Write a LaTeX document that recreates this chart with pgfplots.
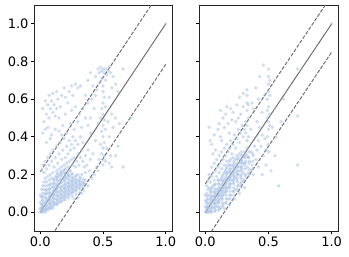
\documentclass[border=0pt]{standalone}
\usepackage{pgfplots}
\pgfplotsset{compat=1.18}
\usepackage{fontspec}
\setmainfont{DejaVu Sans}
\definecolor{ptcol}{HTML}{A8C1E4}
\definecolor{lncol}{HTML}{707070}
\pgfplotsset{
  myax/.style={
    scale only axis, width=138pt, height=226pt,
    xmin=-0.05, xmax=1.05, ymin=-0.1, ymax=1.1,
    xtick={0,0.5,1}, ytick={0,0.2,0.4,0.6,0.8,1.0},
    tick align=outside, tick pos=left,
    major tick length=3.3pt,
    every tick/.style={black, line width=0.8pt},
    axis line style={black!85, line width=0.8pt},
    ticklabel style={font=\fontsize{13}{13}\selectfont},
    xticklabel style={inner sep=1pt, yshift=-1pt},
    yticklabel style={inner sep=1pt, xshift=-1pt},
    /pgf/number format/fixed,
    /pgf/number format/fixed zerofill,
    /pgf/number format/precision=1,
    /pgf/number format/assume math mode=true,
  },
  pts/.style={only marks, mark=*, mark size=1.9pt, color=ptcol, fill=ptcol, fill opacity=0.55, draw opacity=0},
  solidln/.style={lncol, line width=1pt},
  dashln/.style={lncol, line width=1pt, dash pattern=on 3.7pt off 1.6pt},
}
\begin{document}
\begin{tikzpicture}
\path[use as bounding box] (-34pt,-26pt) rectangle (315pt,231pt);
\begin{axis}[myax]
% dense core (left)
\addplot[pts] coordinates {
(0.015,0.005)(0.015,0.025)(0.015,0.045)(0.015,0.065)(0.015,0.085)
(0.045,0.015)(0.045,0.035)(0.045,0.055)(0.045,0.075)(0.045,0.095)(0.045,0.115)
(0.075,0.025)(0.075,0.045)(0.075,0.065)(0.075,0.085)(0.075,0.105)(0.075,0.125)(0.075,0.145)
(0.105,0.035)(0.105,0.055)(0.105,0.075)(0.105,0.095)(0.105,0.115)(0.105,0.135)(0.105,0.155)(0.105,0.175)
(0.135,0.045)(0.135,0.065)(0.135,0.085)(0.135,0.105)(0.135,0.125)(0.135,0.145)(0.135,0.165)(0.135,0.185)(0.135,0.205)
(0.165,0.055)(0.165,0.075)(0.165,0.095)(0.165,0.115)(0.165,0.135)(0.165,0.155)(0.165,0.175)(0.165,0.195)(0.165,0.215)
(0.195,0.065)(0.195,0.085)(0.195,0.105)(0.195,0.125)(0.195,0.145)(0.195,0.165)(0.195,0.185)(0.195,0.205)(0.195,0.225)
(0.225,0.075)(0.225,0.095)(0.225,0.115)(0.225,0.135)(0.225,0.155)(0.225,0.175)(0.225,0.195)(0.225,0.215)
(0.255,0.085)(0.255,0.105)(0.255,0.125)(0.255,0.145)(0.255,0.165)(0.255,0.185)(0.255,0.205)
(0.285,0.095)(0.285,0.115)(0.285,0.135)(0.285,0.155)(0.285,0.175)(0.285,0.195)
(0.315,0.105)(0.315,0.125)(0.315,0.145)(0.315,0.165)(0.315,0.185)
(0.345,0.115)(0.345,0.135)(0.345,0.155)(0.345,0.175)
};
\addplot[pts] coordinates {
(0.00,0.00)(0.01,0.005)(0.01,0.02)(0.02,0.01)(0.02,0.03)(0.03,0.01)(0.03,0.04)(0.04,0.02)(0.04,0.05)(0.05,0.02)(0.05,0.04)(0.05,0.07)(0.06,0.03)(0.06,0.06)(0.07,0.02)(0.07,0.05)(0.07,0.08)(0.08,0.04)(0.08,0.07)(0.08,0.10)(0.09,0.03)(0.09,0.06)(0.09,0.09)(0.10,0.05)(0.10,0.08)(0.10,0.11)(0.02,0.06)(0.03,0.08)(0.04,0.10)(0.05,0.12)(0.06,0.10)(0.01,0.04)(0.00,0.02)(0.02,0.00)(0.04,0.00)(0.06,0.01)(0.08,0.02)(0.10,0.02)
(0.11,0.04)(0.11,0.07)(0.11,0.10)(0.11,0.13)(0.12,0.05)(0.12,0.09)(0.12,0.12)(0.12,0.15)(0.13,0.04)(0.13,0.07)(0.13,0.11)(0.13,0.14)(0.14,0.06)(0.14,0.09)(0.14,0.13)(0.14,0.17)(0.15,0.05)(0.15,0.08)(0.15,0.11)(0.15,0.15)(0.15,0.19)(0.16,0.07)(0.16,0.10)(0.16,0.13)(0.16,0.17)(0.17,0.06)(0.17,0.09)(0.17,0.12)(0.17,0.16)(0.17,0.20)(0.18,0.08)(0.18,0.11)(0.18,0.14)(0.18,0.18)(0.19,0.07)(0.19,0.10)(0.19,0.13)(0.19,0.17)(0.19,0.21)(0.20,0.09)(0.20,0.12)(0.20,0.15)(0.20,0.19)
(0.21,0.08)(0.21,0.11)(0.21,0.14)(0.21,0.18)(0.22,0.10)(0.22,0.13)(0.22,0.16)(0.22,0.20)(0.23,0.09)(0.23,0.12)(0.23,0.15)(0.23,0.19)(0.24,0.11)(0.24,0.14)(0.24,0.17)(0.25,0.10)(0.25,0.13)(0.25,0.16)(0.25,0.20)(0.26,0.12)(0.26,0.15)(0.26,0.18)(0.27,0.11)(0.27,0.14)(0.27,0.17)(0.28,0.13)(0.28,0.16)(0.28,0.19)(0.29,0.12)(0.29,0.15)(0.30,0.14)(0.30,0.17)(0.31,0.13)(0.31,0.16)(0.32,0.15)(0.32,0.18)(0.33,0.14)(0.34,0.16)(0.35,0.15)(0.36,0.17)(0.30,0.20)(0.33,0.20)(0.36,0.21)
(0.00,0.05)(0.00,0.09)(0.01,0.08)(0.01,0.12)(0.02,0.10)(0.02,0.14)(0.03,0.12)(0.03,0.16)(0.04,0.14)(0.04,0.18)(0.05,0.16)(0.06,0.14)(0.06,0.19)(0.07,0.12)(0.07,0.17)(0.08,0.15)(0.08,0.20)(0.09,0.13)(0.09,0.18)(0.10,0.15)(0.10,0.21)(0.11,0.17)(0.12,0.19)(0.13,0.18)(0.13,0.22)(0.14,0.20)(0.15,0.23)(0.16,0.21)(0.17,0.24)(0.18,0.22)(0.19,0.25)(0.20,0.23)(0.21,0.26)(0.22,0.24)(0.23,0.27)(0.24,0.22)(0.25,0.28)(0.26,0.25)(0.27,0.29)(0.28,0.24)(0.29,0.27)(0.30,0.31)(0.31,0.25)(0.32,0.29)(0.33,0.33)(0.34,0.27)
(0.01,0.22)(0.02,0.25)(0.03,0.21)(0.04,0.27)(0.05,0.23)(0.06,0.29)(0.07,0.25)(0.08,0.31)(0.09,0.27)(0.10,0.33)(0.11,0.24)(0.12,0.29)(0.13,0.35)(0.14,0.26)(0.15,0.31)(0.16,0.37)(0.17,0.28)(0.18,0.33)(0.19,0.39)(0.20,0.29)(0.21,0.35)(0.22,0.31)(0.23,0.38)(0.24,0.33)(0.25,0.36)(0.26,0.40)(0.27,0.34)(0.28,0.38)(0.30,0.36)(0.32,0.40)(0.34,0.37)(0.36,0.30)(0.38,0.33)(0.40,0.28)(0.37,0.25)(0.39,0.22)
(0.02,0.42)(0.03,0.48)(0.04,0.44)(0.02,0.55)(0.05,0.52)(0.06,0.57)(0.07,0.50)(0.08,0.55)(0.09,0.59)(0.10,0.53)(0.11,0.57)(0.12,0.51)(0.13,0.55)(0.14,0.60)(0.15,0.50)(0.16,0.56)(0.04,0.59)(0.07,0.62)(0.10,0.63)(0.13,0.64)(0.17,0.62)(0.20,0.61)(0.22,0.58)(0.19,0.66)(0.25,0.67)(0.28,0.68)(0.30,0.66)(0.32,0.67)(0.26,0.62)(0.23,0.64)(0.06,0.45)(0.09,0.41)(0.12,0.44)(0.15,0.43)(0.18,0.46)(0.21,0.42)(0.24,0.47)(0.27,0.44)(0.30,0.48)(0.33,0.45)(0.05,0.37)(0.08,0.39)(0.17,0.41)(0.20,0.52)(0.25,0.54)(0.28,0.56)(0.31,0.52)(0.34,0.55)(0.36,0.50)(0.38,0.46)(0.40,0.42)
(0.36,0.62)(0.38,0.70)(0.40,0.74)(0.42,0.67)(0.44,0.72)(0.46,0.76)(0.47,0.74)(0.48,0.77)(0.49,0.75)(0.50,0.76)(0.51,0.74)(0.52,0.76)(0.53,0.73)(0.54,0.75)(0.55,0.77)(0.56,0.74)(0.58,0.72)(0.60,0.68)(0.62,0.64)(0.66,0.76)(0.45,0.65)(0.48,0.69)(0.52,0.70)(0.57,0.66)(0.41,0.60)(0.44,0.62)(0.55,0.61)
(0.50,0.25)(0.50,0.28)(0.49,0.31)(0.50,0.34)(0.51,0.37)(0.50,0.40)(0.49,0.43)(0.50,0.46)(0.51,0.49)(0.50,0.52)(0.49,0.55)(0.50,0.58)(0.51,0.61)(0.50,0.64)(0.50,0.67)(0.49,0.71)(0.52,0.27)(0.48,0.36)(0.52,0.44)(0.48,0.50)(0.52,0.56)(0.51,0.30)
(0.55,0.26)(0.57,0.24)(0.60,0.30)(0.62,0.35)(0.58,0.45)(0.60,0.50)(0.63,0.47)(0.66,0.24)(0.72,0.50)(0.55,0.40)(0.57,0.52)(0.53,0.34)(0.45,0.24)(0.42,0.31)(0.44,0.38)(0.46,0.47)(0.43,0.55)(0.40,0.50)(0.38,0.58)(0.47,0.28)(0.43,0.20)(0.46,0.22)(0.54,0.48)(0.56,0.30)
(0.35,0.24)(0.33,0.10)(0.38,0.14)(0.41,0.18)(0.30,0.08)(0.27,0.07)(1.00,1.00)
};
\addplot[solidln] coordinates {(0,0)(1,1)};
\addplot[dashln] coordinates {(0,0.215)(1,1.215)};
\addplot[dashln] coordinates {(0,-0.215)(1,0.785)};
\end{axis}
\begin{axis}[myax, at={(165pt,0pt)}, width=139pt, yticklabels={}]
% dense core (right)
\addplot[pts] coordinates {
(0.015,0.005)(0.015,0.025)(0.015,0.045)(0.015,0.065)(0.015,0.085)
(0.045,0.005)(0.045,0.025)(0.045,0.045)(0.045,0.065)(0.045,0.085)(0.045,0.105)(0.045,0.12)
(0.075,0.005)(0.075,0.025)(0.075,0.045)(0.075,0.065)(0.075,0.085)(0.075,0.105)(0.075,0.125)(0.075,0.145)
(0.105,0.01)(0.105,0.03)(0.105,0.05)(0.105,0.07)(0.105,0.09)(0.105,0.11)(0.105,0.13)(0.105,0.15)(0.105,0.17)
(0.135,0.03)(0.135,0.05)(0.135,0.07)(0.135,0.09)(0.135,0.11)(0.135,0.13)(0.135,0.15)(0.135,0.17)(0.135,0.19)
(0.165,0.05)(0.165,0.07)(0.165,0.09)(0.165,0.11)(0.165,0.13)(0.165,0.15)(0.165,0.17)(0.165,0.19)(0.165,0.21)(0.165,0.23)
(0.195,0.07)(0.195,0.09)(0.195,0.11)(0.195,0.13)(0.195,0.15)(0.195,0.17)(0.195,0.19)(0.195,0.21)(0.195,0.23)(0.195,0.25)
(0.225,0.09)(0.225,0.11)(0.225,0.13)(0.225,0.15)(0.225,0.17)(0.225,0.19)(0.225,0.21)(0.225,0.23)(0.225,0.25)(0.225,0.27)
(0.255,0.12)(0.255,0.14)(0.255,0.16)(0.255,0.18)(0.255,0.20)(0.255,0.22)(0.255,0.24)(0.255,0.26)(0.255,0.28)
(0.285,0.14)(0.285,0.16)(0.285,0.18)(0.285,0.20)(0.285,0.22)(0.285,0.24)(0.285,0.26)(0.285,0.28)(0.285,0.30)
(0.315,0.17)(0.315,0.20)(0.315,0.23)(0.315,0.26)(0.315,0.29)(0.315,0.32)
(0.345,0.20)(0.345,0.23)(0.345,0.26)(0.345,0.29)(0.345,0.32)
(0.375,0.23)(0.375,0.27)(0.375,0.31)
};
\addplot[pts] coordinates {
(0.00,0.00)(0.01,0.00)(0.01,0.02)(0.02,0.01)(0.02,0.03)(0.03,0.00)(0.03,0.02)(0.03,0.05)(0.04,0.01)(0.04,0.04)(0.04,0.07)(0.05,0.02)(0.05,0.05)(0.05,0.08)(0.06,0.03)(0.06,0.06)(0.06,0.09)(0.07,0.02)(0.07,0.05)(0.07,0.08)(0.07,0.11)(0.08,0.04)(0.08,0.07)(0.08,0.10)(0.09,0.03)(0.09,0.06)(0.09,0.09)(0.09,0.12)(0.10,0.05)(0.10,0.08)(0.10,0.11)(0.00,0.03)(0.01,0.05)(0.02,0.07)(0.03,0.09)(0.04,0.11)(0.05,0.13)(0.02,0.00)(0.05,0.00)(0.08,0.01)(0.11,0.02)(0.00,0.06)(0.01,0.10)(0.02,0.12)
(0.11,0.06)(0.11,0.09)(0.11,0.12)(0.11,0.15)(0.12,0.07)(0.12,0.10)(0.12,0.13)(0.12,0.17)(0.13,0.08)(0.13,0.11)(0.13,0.14)(0.13,0.18)(0.14,0.09)(0.14,0.12)(0.14,0.16)(0.14,0.20)(0.15,0.10)(0.15,0.13)(0.15,0.17)(0.15,0.21)(0.16,0.11)(0.16,0.14)(0.16,0.18)(0.16,0.22)(0.17,0.12)(0.17,0.16)(0.17,0.20)(0.17,0.24)(0.18,0.13)(0.18,0.17)(0.18,0.21)(0.18,0.25)(0.19,0.14)(0.19,0.18)(0.19,0.22)(0.19,0.27)(0.20,0.15)(0.20,0.19)(0.20,0.23)(0.20,0.28)(0.21,0.17)(0.21,0.21)(0.21,0.25)(0.22,0.16)(0.22,0.20)(0.22,0.24)(0.22,0.29)(0.23,0.18)(0.23,0.22)(0.23,0.26)(0.24,0.19)(0.24,0.23)(0.24,0.28)(0.25,0.17)(0.25,0.21)(0.25,0.25)(0.25,0.30)(0.26,0.20)(0.26,0.24)(0.26,0.29)(0.27,0.22)(0.27,0.26)(0.27,0.31)(0.28,0.19)(0.28,0.24)(0.28,0.28)(0.29,0.23)(0.29,0.27)(0.29,0.32)(0.30,0.21)(0.30,0.26)(0.30,0.30)(0.31,0.25)(0.31,0.29)(0.32,0.27)(0.32,0.31)(0.33,0.24)(0.34,0.29)(0.35,0.27)(0.36,0.32)(0.37,0.25)(0.38,0.30)(0.40,0.28)(0.39,0.35)(0.41,0.33)(0.42,0.38)(0.44,0.35)(0.45,0.41)(0.47,0.39)(0.43,0.45)(0.46,0.30)(0.48,0.33)
(0.12,0.02)(0.14,0.04)(0.16,0.05)(0.18,0.07)(0.20,0.09)(0.22,0.11)(0.24,0.12)(0.26,0.14)(0.28,0.15)(0.30,0.17)(0.32,0.19)(0.34,0.21)(0.36,0.22)(0.31,0.13)(0.27,0.10)(0.23,0.07)(0.19,0.04)(0.15,0.02)
(0.00,0.09)(0.01,0.14)(0.02,0.17)(0.03,0.13)(0.03,0.20)(0.04,0.16)(0.05,0.19)(0.05,0.24)(0.06,0.14)(0.06,0.21)(0.07,0.17)(0.07,0.26)(0.08,0.15)(0.08,0.22)(0.09,0.19)(0.09,0.28)(0.10,0.17)(0.10,0.24)(0.11,0.21)(0.11,0.30)(0.12,0.26)(0.13,0.23)(0.13,0.32)(0.14,0.28)(0.15,0.25)(0.15,0.34)(0.16,0.30)(0.17,0.27)(0.17,0.36)(0.18,0.32)(0.19,0.34)(0.20,0.38)(0.21,0.31)(0.22,0.36)(0.23,0.41)(0.24,0.34)(0.25,0.39)(0.26,0.44)(0.27,0.37)(0.28,0.42)(0.29,0.46)(0.30,0.40)(0.31,0.44)
(0.03,0.45)(0.05,0.36)(0.07,0.41)(0.08,0.33)(0.10,0.44)(0.12,0.54)(0.13,0.38)(0.14,0.50)(0.15,0.45)(0.16,0.52)(0.18,0.47)(0.19,0.42)(0.20,0.55)(0.21,0.49)(0.22,0.53)(0.24,0.48)(0.11,0.47)(0.06,0.31)(0.12,0.40)(0.17,0.56)(0.27,0.61)(0.25,0.57)(0.28,0.52)(0.30,0.56)(0.26,0.50)
(0.33,0.30)(0.33,0.34)(0.33,0.38)(0.32,0.42)(0.33,0.46)(0.34,0.50)(0.33,0.54)(0.33,0.58)(0.33,0.62)(0.33,0.65)(0.34,0.40)(0.32,0.48)(0.34,0.57)
(0.50,0.32)(0.50,0.36)(0.49,0.40)(0.50,0.44)(0.50,0.48)(0.51,0.52)(0.50,0.56)(0.49,0.60)(0.50,0.64)(0.50,0.68)(0.50,0.72)(0.50,0.76)(0.51,0.46)(0.49,0.54)(0.51,0.62)(0.51,0.70)(0.49,0.50)
(0.43,0.72)(0.46,0.78)(0.40,0.66)(0.38,0.55)(0.42,0.60)(0.45,0.53)(0.47,0.62)(0.55,0.55)(0.53,0.45)(0.56,0.40)(0.58,0.14)(0.73,0.25)(0.73,0.51)(0.73,0.76)(0.55,0.30)(0.52,0.22)(0.48,0.25)(0.45,0.20)(0.42,0.24)(0.60,0.48)(0.62,0.60)(0.38,0.20)(0.41,0.48)(0.36,0.44)(0.37,0.58)(0.30,0.63)(0.04,0.38)(1.00,1.00)
};
\addplot[solidln] coordinates {(0,0)(1,1)};
\addplot[dashln] coordinates {(0,0.15)(1,1.15)};
\addplot[dashln] coordinates {(0,-0.15)(1,0.85)};
\end{axis}
\end{tikzpicture}
\end{document}
